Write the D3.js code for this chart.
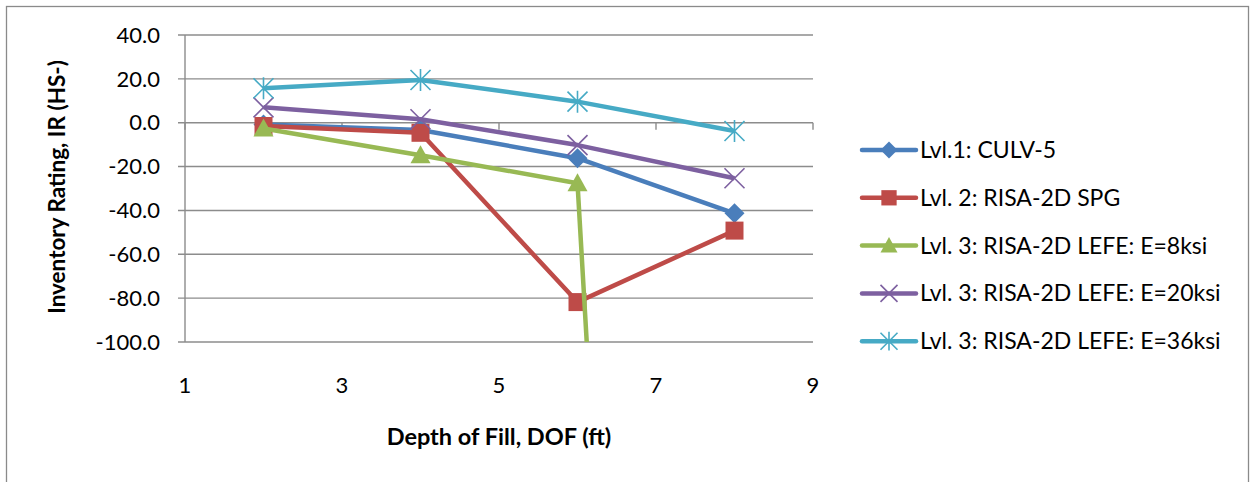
<!DOCTYPE html>
<html><head><meta charset="utf-8">
<script src="https://cdn.jsdelivr.net/npm/d3@7"></script>
<style>body{margin:0;background:#fff}svg{display:block}text{font-family:Lato,"Liberation Sans",sans-serif}</style>
</head><body>
<svg id="c" width="1255" height="482"></svg>
<script>
const depth = [2, 4, 6, 8];
const seriesNames = ["Lvl.1: CULV-5", "Lvl. 2: RISA-2D SPG", "Lvl. 3: RISA-2D LEFE: E=8ksi", "Lvl. 3: RISA-2D LEFE: E=20ksi", "Lvl. 3: RISA-2D LEFE: E=36ksi"];
const culv5 = [-0.8, -3.3, -16.2, -41.3];
const spg = [-1.5, -4.6, -81.8, -49.2];
const lefe8 = [-2.6, -14.8, -27.6, -1260];
const lefe20 = [7.0, 1.6, -10.2, -25.3];
const lefe36 = [15.7, 19.5, 9.6, -3.8];
const yTicks = [40, 20, 0, -20, -40, -60, -80, -100];
const xTicks = [1, 3, 5, 7, 9];
const colors = ["#4A7EBB", "#BE4B48", "#98B954", "#7D60A0", "#46AAC5"];
const markers = ["diamond", "square", "triangle", "x", "star"];
const allSeries = [culv5, spg, lefe8, lefe20, lefe36];

const svg = d3.select("#c");
svg.append("rect").attr("x", 6.5).attr("y", 6.5).attr("width", 1242).attr("height", 500)
  .attr("fill", "#fff").attr("stroke", "#8a8a8a").attr("stroke-width", 1.3);

const x = d3.scaleLinear().domain([1, 9]).range([185, 813]);
const y = d3.scaleLinear().domain([-100, 40]).range([342, 35]);
const grid = "#8c8c8c";

svg.append("g").selectAll("line").data(yTicks).join("line")
  .attr("x1", x(1) - 7).attr("x2", x(9)).attr("y1", d => y(d)).attr("y2", d => y(d))
  .attr("stroke", grid).attr("stroke-width", 1.4);
svg.append("line").attr("x1", x(1)).attr("x2", x(1)).attr("y1", y(40)).attr("y2", y(-100))
  .attr("stroke", grid).attr("stroke-width", 1.4);
svg.append("g").selectAll("text").data(yTicks).join("text")
  .attr("x", 160).attr("y", d => y(d)).attr("dy", "0.35em").attr("text-anchor", "end")
  .attr("font-size", 22).attr("fill", "#000").text(d => d.toFixed(1));
svg.append("g").selectAll("line").data(xTicks).join("line")
  .attr("x1", d => x(d)).attr("x2", d => x(d)).attr("y1", y(0)).attr("y2", y(0) + 7)
  .attr("stroke", grid).attr("stroke-width", 1.4);
svg.append("g").selectAll("text").data(xTicks).join("text")
  .attr("x", d => x(d)).attr("y", 385).attr("dy", "0.35em").attr("text-anchor", "middle")
  .attr("font-size", 22).attr("fill", "#000").text(d => d);

svg.append("text").attr("x", 499).attr("y", 437).attr("dy", "0.35em").attr("text-anchor", "middle")
  .attr("font-size", 23.5).attr("font-weight", "bold").text("Depth of Fill, DOF (ft)");
svg.append("text").attr("transform", "translate(57,187) rotate(-90)").attr("dy", "0.35em")
  .attr("text-anchor", "middle").attr("font-size", 22.5).attr("font-weight", "bold").text("Inventory Rating, IR (HS-)");

svg.append("clipPath").attr("id", "clip").append("rect")
  .attr("x", x(1)).attr("y", y(40) - 15).attr("width", x(9) - x(1) + 20).attr("height", y(-100) - y(40) + 15);

function markerPath(type, s) {
  if (type === "diamond") return `M0,${-s}L${s},0L0,${s}L${-s},0Z`;
  if (type === "square") return `M${-s*0.9},${-s*0.9}H${s*0.9}V${s*0.9}H${-s*0.9}Z`;
  if (type === "triangle") return `M0,${-s}L${s},${s*0.8}L${-s},${s*0.8}Z`;
  if (type === "x") return `M${-s},${-s}L${s},${s}M${-s},${s}L${s},${-s}`;
  if (type === "star") return `M${-s},${-s}L${s},${s}M${-s},${s}L${s},${-s}M0,${-s*1.1}V${s*1.1}`;
}
const line = d3.line().x(d => x(d[0])).y(d => y(d[1]));
const plot = svg.append("g").attr("clip-path", "url(#clip)");
allSeries.forEach((vals, i) => {
  const pts = depth.map((d, j) => [d, vals[j]]);
  const g = plot.append("g");
  g.append("path").attr("d", line(pts)).attr("fill", "none").attr("stroke", colors[i])
    .attr("stroke-width", 4.5).attr("stroke-linejoin", "round");
  const filled = i < 3;
  g.selectAll("path.m").data(pts).join("path").attr("class", "m")
    .attr("transform", d => `translate(${x(d[0])},${y(d[1])})`)
    .attr("d", markerPath(markers[i], 10))
    .attr("fill", filled ? colors[i] : "none")
    .attr("stroke", colors[i]).attr("stroke-width", filled ? 0 : 1.6);
});

const lg = svg.append("g");
seriesNames.forEach((name, i) => {
  const ly = 150 + i * 47.8;
  lg.append("line").attr("x1", 862).attr("x2", 916).attr("y1", ly).attr("y2", ly)
    .attr("stroke", colors[i]).attr("stroke-width", 4.5).attr("stroke-linecap", "round");
  lg.append("path").attr("transform", `translate(889,${ly})`).attr("d", markerPath(markers[i], 8.5))
    .attr("fill", i < 3 ? colors[i] : "none").attr("stroke", colors[i]).attr("stroke-width", i < 3 ? 0 : 1.6);
  lg.append("text").attr("x", 920).attr("y", ly).attr("dy", "0.35em").attr("font-size", 23)
    .attr("fill", "#000").text(name);
});
</script>
</body></html>
